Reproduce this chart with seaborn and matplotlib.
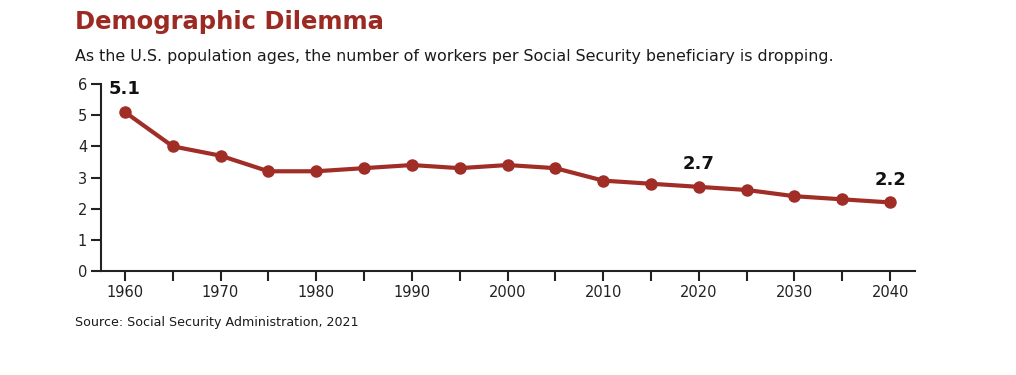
import matplotlib
matplotlib.use("Agg")
import matplotlib.pyplot as plt
import seaborn as sns
import pandas as pd

years = [1960, 1965, 1970, 1975, 1980, 1985, 1990, 1995, 2000, 2005,
         2010, 2015, 2020, 2025, 2030, 2035, 2040]
workers = [5.1, 4.0, 3.7, 3.2, 3.2, 3.3, 3.4, 3.3, 3.4, 3.3,
           2.9, 2.8, 2.7, 2.6, 2.4, 2.3, 2.2]
labeled_years = [1960, 2020, 2040]
tick_years = list(range(1960, 2041, 5))
yticks = [0, 1, 2, 3, 4, 5, 6]

title = "Demographic Dilemma"
subtitle = "As the U.S. population ages, the number of workers per Social Security beneficiary is dropping."
source = "Source: Social Security Administration, 2021"

df = pd.DataFrame({"year": years, "workers": workers})

sns.set_style("white")
plt.rcParams['font.family'] = ['DejaVu Sans']

red = "#a02e27"
dark = "#222222"

fig = plt.figure(figsize=(10.16, 3.75), dpi=100)
ax = fig.add_axes([0.0994, 0.2773, 0.8012, 0.4987])

sns.lineplot(data=df, x="year", y="workers", ax=ax, color=red, linewidth=3,
             marker="o", markersize=9, markeredgewidth=0, clip_on=False)

for yr in labeled_years:
    v = workers[years.index(yr)]
    ax.annotate(f"{v}", (yr, v), xytext=(0, 10), textcoords="offset points",
                ha="center", va="bottom", fontsize=13, fontweight="bold", color="#111111")

ax.set_xlim(1957.5, 2042.6)
ax.set_ylim(0, 6)
ax.set_xticks(tick_years)
ax.set_xticklabels([str(y) if y % 10 == 0 else "" for y in tick_years])
ax.set_yticks(yticks)
ax.set_yticklabels([str(t) for t in yticks])
ax.set_xlabel("")
ax.set_ylabel("")

for s in ["top", "right"]:
    ax.spines[s].set_visible(False)
for s in ["left", "bottom"]:
    ax.spines[s].set_color(dark)
    ax.spines[s].set_linewidth(1.5)
ax.tick_params(axis="both", direction="out", length=7, width=1.5, color=dark,
               labelsize=10.5, labelcolor=dark, pad=3)
ax.tick_params(axis="both", which="both", bottom=True, left=True)

fig.text(0.074, 0.94, title, fontsize=17.5, fontweight="bold", color="#9b2a22",
         ha="left", va="center")
fig.text(0.074, 0.848, subtitle, fontsize=11.4, color="#1a1a1a", ha="left", va="center")
fig.text(0.074, 0.141, source, fontsize=9.1, color="#1a1a1a", ha="left", va="center")

fig.savefig("out.png", dpi=100)
